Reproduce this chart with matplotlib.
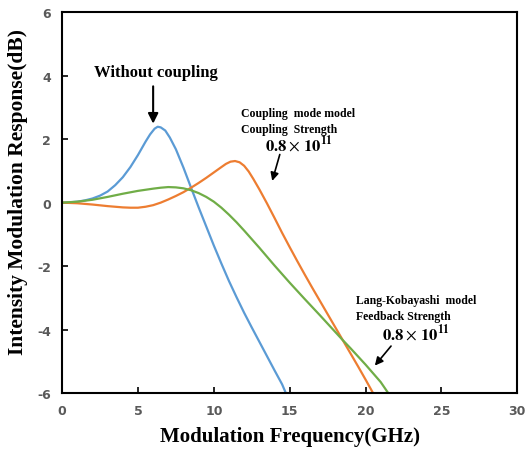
import matplotlib
matplotlib.use('Agg')
import matplotlib.pyplot as plt

plt.rcParams['axes.unicode_minus'] = False
plt.rcParams['mathtext.fontset'] = 'stix'

# values (GHz, dB)
f_blue = [0, 0.5, 1, 1.5, 2, 2.5, 3, 3.5, 4, 4.5, 5, 5.5, 5.8, 6.1, 6.3, 6.5, 6.8,
          7.1, 7.5, 8, 8.5, 9, 9.5, 10, 10.5, 11, 11.5, 12, 12.5, 13, 13.5, 14,
          14.5, 14.75]
r_blue = [0, 0.01, 0.03, 0.07, 0.13, 0.22, 0.35, 0.55, 0.8, 1.12, 1.5, 1.92, 2.15,
          2.33, 2.39, 2.37, 2.27, 2.05, 1.68, 1.1, 0.47, -0.15, -0.75, -1.35,
          -1.92, -2.47, -2.98, -3.47, -3.93, -4.38, -4.83, -5.28, -5.72, -6]

f_orange = [0, 1, 2, 3, 4, 4.5, 5, 5.5, 6, 6.5, 7, 7.5, 8, 8.5, 9, 9.5, 10, 10.5,
            10.8, 11.1, 11.4, 11.7, 12, 12.3, 12.6, 13, 13.5, 14, 14.5, 15, 15.5,
            16, 16.5, 17, 17.5, 18, 18.5, 19, 19.5, 20, 20.5]
r_orange = [0, -0.02, -0.06, -0.11, -0.15, -0.16, -0.16, -0.13, -0.08, 0.0, 0.1,
            0.21, 0.33, 0.47, 0.62, 0.78, 0.95, 1.12, 1.22, 1.29, 1.31, 1.27, 1.16,
            0.98, 0.75, 0.42, -0.02, -0.48, -0.95, -1.4, -1.84, -2.27, -2.69,
            -3.1, -3.51, -3.92, -4.33, -4.74, -5.15, -5.57, -6]

f_green = [0, 1, 2, 3, 4, 5, 6, 6.5, 7, 7.5, 8, 8.5, 9, 9.5, 10, 10.5, 11, 11.5,
           12, 12.5, 13, 13.5, 14, 15, 16, 17, 18, 18.5, 19, 20, 21, 21.5]
r_green = [0, 0.03, 0.09, 0.18, 0.28, 0.37, 0.44, 0.47, 0.49, 0.48, 0.45, 0.39,
           0.3, 0.18, 0.03, -0.16, -0.38, -0.62, -0.88, -1.15, -1.42, -1.7, -1.98,
           -2.52, -3.04, -3.55, -4.07, -4.33, -4.58, -5.1, -5.65, -6]

xticks = [0, 5, 10, 15, 20, 25, 30]
yticks = [-6, -4, -2, 0, 2, 4, 6]

fig = plt.figure(figsize=(5.31, 4.52), dpi=100)
ax = fig.add_axes([0.117, 0.128, 0.857, 0.843])

ax.plot(f_blue, r_blue, color='#5B9BD5', lw=1.6)
ax.plot(f_orange, r_orange, color='#ED7D31', lw=1.6)
ax.plot(f_green, r_green, color='#70AD47', lw=1.6)

ax.set_xlim(0, 30)
ax.set_ylim(-6, 6)
ax.set_xticks(xticks)
ax.set_yticks(yticks)
ax.tick_params(direction='in', length=4, width=1.2, colors='black',
               labelcolor='#595959', labelsize=9, pad=8)
for lab in ax.get_xticklabels() + ax.get_yticklabels():
    lab.set_fontweight('bold')
for sp in ax.spines.values():
    sp.set_linewidth(1.5)

serif = 'Liberation Serif'
ax.set_xlabel('Modulation Frequency(GHz)', family=serif, fontweight='bold',
              fontsize=15, labelpad=6)
ax.set_ylabel('Intensity Modulation Response(dB)', family=serif, fontweight='bold',
              fontsize=15.5)
ax.yaxis.set_label_coords(-0.075, 0.53)

strength = r'$\mathbf{0.8}\times\,\mathbf{10}^{\mathbf{11}}$'

# annotations
ax.text(6.2, 4.1, 'Without coupling', family=serif, fontweight='bold', fontsize=12,
        ha='center', va='center')
ax.annotate('', xy=(6.0, 2.4), xytext=(6.0, 3.75),
            arrowprops=dict(arrowstyle='-|>', color='black', lw=1.5, mutation_scale=15))

ax.text(11.8, 2.58, 'Coupling  mode model\nCoupling  Strength', family=serif,
        fontweight='bold', fontsize=8.5, ha='left', va='center', linespacing=1.45)
ax.text(15.6, 1.85, strength, fontsize=12, ha='center', va='center')
ax.annotate('', xy=(13.8, 0.6), xytext=(14.4, 1.6),
            arrowprops=dict(arrowstyle='-|>', color='black', lw=1.2, mutation_scale=12))

ax.text(19.4, -3.32, 'Lang-Kobayashi  model\nFeedback Strength', family=serif,
        fontweight='bold', fontsize=8.5, ha='left', va='center', linespacing=1.45)
ax.text(23.3, -4.12, strength, fontsize=12, ha='center', va='center')
ax.annotate('', xy=(20.5, -5.2), xytext=(21.8, -4.45),
            arrowprops=dict(arrowstyle='-|>', color='black', lw=1.2, mutation_scale=12))

fig.savefig('out.png', dpi=100)
